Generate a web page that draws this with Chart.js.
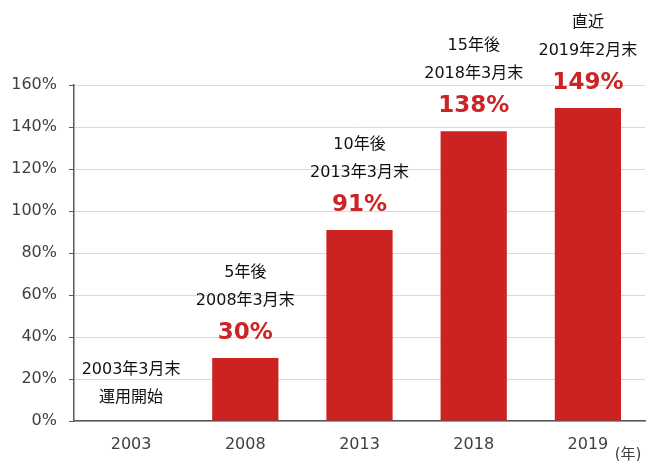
<!DOCTYPE html>
<html>
<head>
<meta charset="utf-8">
<script src="https://cdn.jsdelivr.net/npm/chart.js@4.4.1/dist/chart.umd.min.js"></script>
<style>
  html, body { margin: 0; padding: 0; background: #fff; }
  #wrap { width: 649px; height: 461px; }
</style>
</head>
<body>
<div id="wrap"><canvas id="chartCanva" width="649" height="461"></canvas></div>
<script>
const years = ['2003', '2008', '2013', '2018', '2019'];
const returns = [0, 30, 91, 138, 149];
const noteLines = [
  ['2003年3月末', '運用開始'],
  ['5年後', '2008年3月末'],
  ['10年後', '2013年3月末'],
  ['15年後', '2018年3月末'],
  ['直近', '2019年2月末']
];
const pctLabels = ['', '30%', '91%', '138%', '149%'];
const yTicks = [0, 20, 40, 60, 80, 100, 120, 140, 160];

const FONT = "'DejaVu Sans', 'Noto Sans CJK JP', sans-serif";

const notesPlugin = {
  id: 'notes',
  afterDatasetsDraw(chart) {
    const ctx = chart.ctx;
    const meta = chart.getDatasetMeta(0);
    const yScale = chart.scales.y;
    ctx.save();
    ctx.textAlign = 'center';
    ctx.textBaseline = 'middle';
    meta.data.forEach((bar, i) => {
      const x = bar.x;
      const top = yScale.getPixelForValue(returns[i]);
      const lines = noteLines[i];
      let offs;
      if (pctLabels[i]) {
        ctx.font = 'bold 23px ' + FONT;
        ctx.fillStyle = '#cc2424';
        ctx.fillText(pctLabels[i], x, top - 25);
        offs = [-85, -57];
      } else {
        offs = [-51, -23];
      }
      ctx.font = '16px ' + FONT;
      ctx.fillStyle = '#111';
      lines.forEach((t, k) => ctx.fillText(t, x, top + offs[k]));
    });
    // unit label
    ctx.font = '15px ' + FONT;
    ctx.fillStyle = '#404040';
    ctx.fillText('(年)', chart.chartArea.right - 17, chart.chartArea.bottom + 34);
    ctx.restore();
  }
};

const config = {
  type: 'bar',
  data: {
    labels: years,
    datasets: [{
      data: returns,
      backgroundColor: '#cb2222',
      categoryPercentage: 1,
      barPercentage: 0.58
    }]
  },
  options: {
    responsive: false,
    animation: false,
    layout: { padding: { top: 85, right: 4, left: 0, bottom: 0 } },
    plugins: {
      legend: { display: false },
      tooltip: { enabled: false }
    },
    scales: {
      x: {
        grid: { display: false },
        border: { display: true, color: '#595959', width: 1.5 },
        ticks: { color: '#404040', font: { family: FONT, size: 16 }, padding: 6 },
        afterFit(scale) { scale.height = 40; }
      },
      y: {
        min: 0,
        max: 160,
        afterBuildTicks(scale) { scale.ticks = yTicks.map(v => ({ value: v })); },
        grid: { color: '#d9d9d9', tickColor: '#595959', tickLength: 5, lineWidth: 1 },
        border: { display: true, color: '#595959', width: 1.5 },
        ticks: {
          color: '#404040',
          font: { family: FONT, size: 16 },
          padding: 12,
          callback: v => v + '%'
        },
        afterFit(scale) { scale.width = 74; }
      }
    }
  },
  plugins: [notesPlugin]
};

new Chart(document.getElementById('chartCanva'), config);
</script>
</body>
</html>
